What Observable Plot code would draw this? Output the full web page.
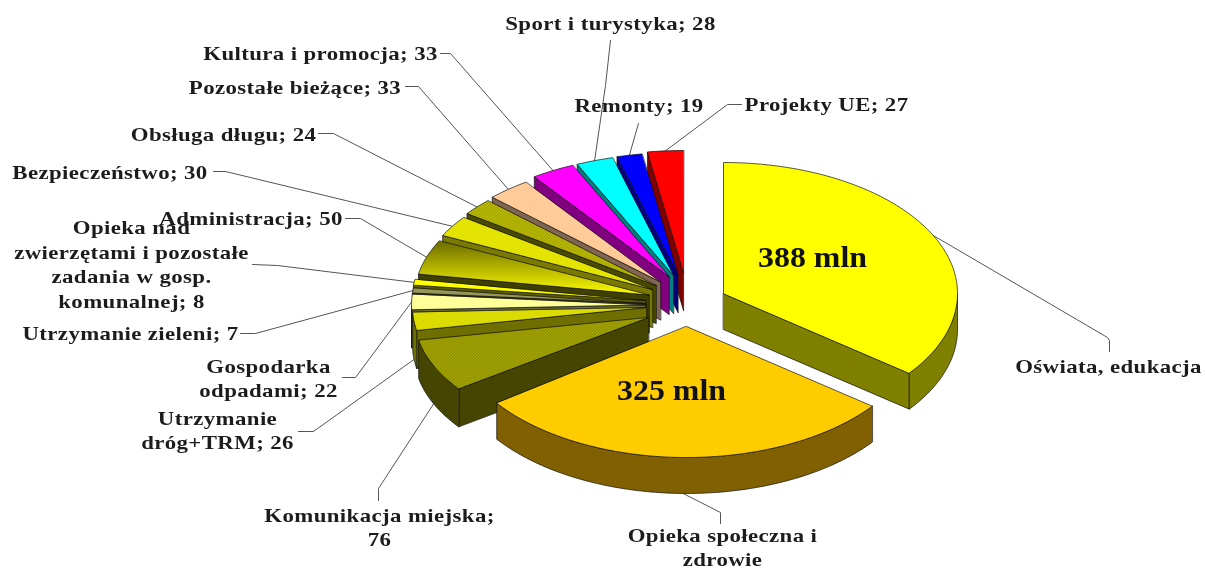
<!DOCTYPE html>
<html lang="pl">
<head>
<meta charset="utf-8">
<script src="https://cdn.jsdelivr.net/npm/d3@7"></script>
<script src="https://cdn.jsdelivr.net/npm/@observablehq/plot@0.6"></script>
<style>
html,body{margin:0;padding:0;background:#fff;overflow:hidden}
svg{display:block;filter:blur(0.55px)}
[font-size="18"]{letter-spacing:0.3px}
</style>
</head>
<body>
<script>
// --- data -------------------------------------------------------------
const categories = ["Oświata, edukacja","Opieka społeczna i zdrowie","Komunikacja miejska","Utrzymanie dróg+TRM","Gospodarka odpadami","Utrzymanie zieleni","Opieka nad zwierzętami i pozostałe zadania w gosp. komunalnej","Administracja","Bezpieczeństwo","Obsługa długu","Pozostałe bieżące","Kultura i promocja","Sport i turystyka","Remonty","Projekty UE"];
const values = [388,325,76,26,22,7,8,50,30,24,33,33,28,19,27];
const labelTexts = ["Oświata, edukacja","Opieka społeczna i\nzdrowie","Komunikacja miejska;\n76","Utrzymanie\ndróg+TRM; 26","Gospodarka\nodpadami; 22","Utrzymanie zieleni; 7","Opieka nad\nzwierzętami i pozostałe\nzadania w gosp.\nkomunalnej; 8","Administracja; 50","Bezpieczeństwo; 30","Obsługa długu; 24","Pozostałe bieżące; 33","Kultura i promocja; 33","Sport i turystyka; 28","Remonty; 19","Projekty UE; 27"];
const insideLabels = ["388 mln","325 mln"];

// --- layout -----------------------------------------------------------
const sliceCentreX = [723,686,648,646,645,645,645,648.5,652,655.5,660,668.5,673,677.5,683];
const sliceCentreY = [293,326,317,307,304.4,303,300,294.5,289,285,281.5,276,275,274,272];
const radiiY = [131,131,122,122,122,122,122,122,122,122,122,122,122,122,122];
const radiusX = 234;
const thickness = [36,36,38,38,38,38,38,38,38,38,38,38,38,38,38];
const topFills = ["#ffff00","#ffcc00","url(#pKom)","url(#pDrog)","#ffff99","#96965a","#ffff00","url(#gAdm)","url(#pBez)","url(#pObs)","#ffcc99","#ff00ff","#00ffff","#0000ff","#ff0000"];
const wallFills = ["#808000","#806000","url(#pKomW)","#6f6f00","#6a6a3a","#4b4b25","#5c5c00","#3f3f00","#7a7a00","#4a4a00","#806650","#800080","#008080","#000080","#800000"];
const labelX = [1108,722,379,217,268,130,131,250.5,109.5,223,294.5,320,610,638.5,826];
const labelY = [367,548,528,431,379,334,265,219,173,135,88,54,24,106,105];
const leaderElbows = [
  [[1107,337],[1109,340],[1109,351]],
  [[720,512],[720,523]],
  [[378,488],[378,500]],
  [[313,431],[298,431]],
  [[355,377],[342,377]],
  [[255,333],[240,333]],
  [[277,265],[252,264]],
  [[360,218],[345,218]],
  [[225,171],[213,171]],
  [[333,133],[318,133]],
  [[418,86],[405,86]],
  [[450,53],[440,53]],
  [[605,85],[610,40]],
  [[638,123]],
  [[727,104],[741,104]]
];
const insideX = [812,671];
const insideY = [257,390];

// --- geometry built from the values -----------------------------------
const arcs = d3.pie().sort(null)(values);
const rim = (i, a, drop = 0) => ({
  x: sliceCentreX[i] + radiusX * Math.sin(a),
  y: sliceCentreY[i] - radiiY[i] * Math.cos(a) + drop
});
const arcPoints = (i, a0, a1, drop = 0) => {
  const n = Math.max(2, Math.ceil((a1 - a0) / 0.02));
  return d3.range(n + 1).map(k => rim(i, a0 + (a1 - a0) * k / n, drop));
};
const face = (pts, fill) => Plot.line(pts, {x: "x", y: "y", fill, stroke: "#111", strokeWidth: 0.7, curve: "linear-closed"});

const sliceMarks = i => {
  const {startAngle: a0, endAngle: a1} = arcs[i];
  const d = thickness[i];
  const apex = {x: sliceCentreX[i], y: sliceCentreY[i]};
  const low = {x: apex.x, y: apex.y + d};
  const out = [];
  // radial wall on the edge facing the viewer
  const radial = a0 > Math.PI ? a0 : (a1 < Math.PI ? a1 : null);
  if (radial !== null) out.push(face([apex, rim(i, radial), rim(i, radial, d), low], wallFills[i]));
  // outer wall on the part of the rim that is in front
  const f0 = Math.max(a0, Math.PI / 2), f1 = Math.min(a1, 3 * Math.PI / 2);
  if (f1 > f0) out.push(face([...arcPoints(i, f0, f1), ...arcPoints(i, f0, f1, d).reverse()], wallFills[i]));
  out.push(face([apex, ...arcPoints(i, a0, a1)], topFills[i]));
  return out;
};

const leaderMarks = values.map((_, i) => {
  const mid = (arcs[i].startAngle + arcs[i].endAngle) / 2;
  const front = Math.cos(mid) < 0;
  const start = rim(i, mid, front ? thickness[i] : 0);
  const pts = [start, ...leaderElbows[i].map(([x, y]) => ({x, y}))];
  return Plot.line(pts, {x: "x", y: "y", stroke: "#555", strokeWidth: 1});
});

const labels = labelTexts.map((text, i) => ({text, x: labelX[i], y: labelY[i]}));
const inside = insideLabels.map((text, i) => ({text, x: insideX[i], y: insideY[i]}));

// paint back to front: the small slices anticlockwise, then the two big ones
const paintOrder = [...d3.range(values.length - 1, 1, -1), 0, 1];

const chart = Plot.plot({
  width: 1205, height: 570,
  margin: 0,
  x: {domain: [0, 1205], range: [0, 1205], axis: null},
  y: {domain: [0, 570], range: [0, 570], axis: null},
  marks: [
    ...leaderMarks,
    ...paintOrder.flatMap(sliceMarks),
    Plot.text(labels, {x: "x", y: "y", dy: -2.5, text: "text", fontFamily: "Liberation Serif", fontWeight: "bold", fontSize: 18, lineHeight: 1.36, fill: "#1c1c1c"}),
    Plot.text(inside, {x: "x", y: "y", text: "text", fontFamily: "Liberation Serif", fontWeight: "bold", fontSize: 29, fill: "#111"})
  ]
});

// the reference's lettering is stretched horizontally
chart.querySelectorAll('[font-size="18"] text').forEach(t => t.setAttribute("transform", (t.getAttribute("transform") || "") + " scale(1.27,1)"));
chart.querySelectorAll('[font-size="29"] text').forEach(t => t.setAttribute("transform", (t.getAttribute("transform") || "") + " scale(1.1,1)"));

const defs = document.createElementNS("http://www.w3.org/2000/svg", "defs");
const check = (id, a, b) => `<pattern id="${id}" width="3" height="3" patternUnits="userSpaceOnUse"><rect width="3" height="3" fill="${a}"/><rect width="1.5" height="1.5" fill="${b}"/><rect x="1.5" y="1.5" width="1.5" height="1.5" fill="${b}"/></pattern>`;
defs.innerHTML =
  check("pKom", "#c8c800", "#6b6b00") +
  check("pKomW", "#1f1f00", "#6c6c00") +
  check("pDrog", "#ffff00", "#b8b800") +
  check("pBez", "#ffff00", "#c8c800") +
  check("pObs", "#808000", "#e0e000") +
  `<linearGradient id="gAdm" gradientUnits="userSpaceOnUse" x1="0" y1="240" x2="0" y2="295"><stop offset="0" stop-color="#6a6a00"/><stop offset="1" stop-color="#ffff00"/></linearGradient>`;
chart.insertBefore(defs, chart.firstChild);
document.body.appendChild(chart);
</script>
</body>
</html>
